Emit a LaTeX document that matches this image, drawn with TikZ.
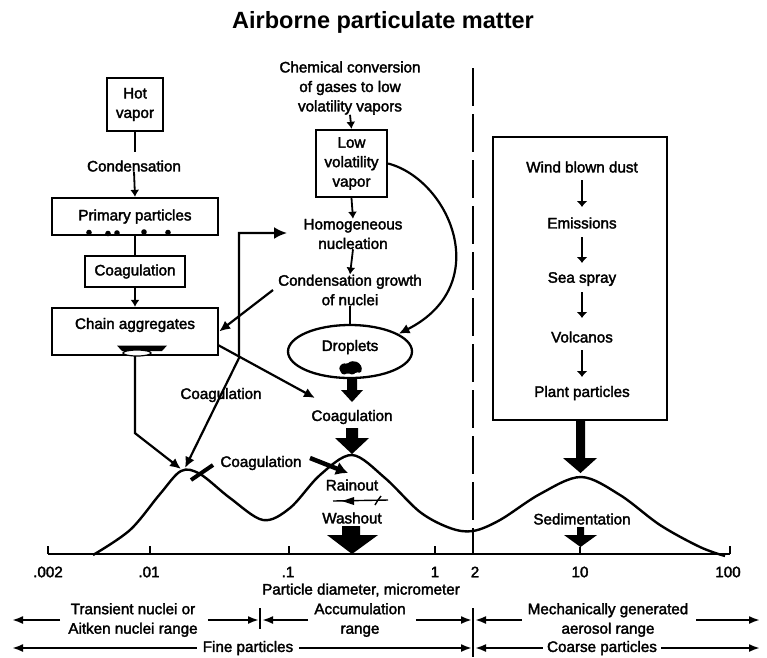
\documentclass[tikz,border=0pt]{standalone}
\usepackage{fontspec}
\setmainfont{Liberation Sans}
\newfontfamily\lblfam{Liberation Sans}[BoldFont={Liberation Sans}, BoldFeatures={FakeBold=2.2}]
\newcommand\lblsz{\lblfam\bfseries\fontsize{15.2}{19.5}\selectfont}
\newcommand\ttlsz{\fontsize{23.5}{28}\selectfont\bfseries}
\usetikzlibrary{arrows.meta,shapes.geometric}
\begin{document}
\begin{tikzpicture}[x=1pt,y=-1pt,
  lbl/.style={font=\lblsz, align=center, inner sep=0pt},
  boxn/.style={draw, line width=2.3pt, rectangle, inner sep=0pt, font=\lblsz, align=center},
  conn/.style={line width=2.2pt},
  arr/.style={conn, -{Latex[length=11pt,width=10pt]}},
  sarr/.style={line width=1.8pt, -{Latex[length=7pt,width=9pt]}},
  barr/.style={line width=1.6pt, -{Latex[length=6pt,width=11pt]}},
  rng/.style={line width=2pt, -{Latex[length=11pt,width=8pt]}},
  tick/.style={line width=2pt}]
\useasboundingbox (0,0) rectangle (767,657);

% title
\node[font=\ttlsz, inner sep=0pt] (title) at (383,22) {Airborne particulate matter};

% ---------------- left column
\node[boxn, minimum width=56pt, minimum height=53pt] (hot) at (135,104.5) {Hot\\vapor};
\node[lbl] (cond) at (134,166) {Condensation};
\node[boxn, minimum width=166pt, minimum height=37pt] (prim) at (135,216.5) {Primary particles};
\node[boxn, minimum width=100pt, minimum height=31pt] (coag1) at (135,271.5) {Coagulation};
\node[boxn, minimum width=166pt, minimum height=47pt] (chain) at (135,331.5) {};
\node[lbl] (chaintxt) at (135,325) {Chain aggregates};

\coordinate (c1) at (135,152);
\draw[conn] (hot.south) -- (c1);
\draw[sarr] (cond.south) -- (prim.north);
\draw[conn] (prim.south) -- (coag1.north);
\draw[sarr] (coag1.south) -- (chain.north);

% particles on primary box
\foreach \px/\py in {89/232.5,108/233.5,117/233,144/232,168/232.5}
  \fill (\px,\py) circle (2.8pt);

% mark under chain aggregates
\fill (117,345.5) -- (167,345.5) -- (162,351) -- (122,351) -- cycle;
\draw[line width=1.2pt, fill=white] (137,353) ellipse (14pt and 3pt);

% ---------------- middle column
\node[lbl] (chem) at (350,88) {Chemical conversion\\of gases to low\\volatility vapors};
\node[boxn, minimum width=71pt, minimum height=67pt] (lvv) at (351.5,163.5) {Low\\volatility\\vapor};
\node[lbl] (homo) at (353,234) {Homogeneous\\nucleation};
\node[lbl] (cgrow) at (350,290) {Condensation growth\\of nuclei};
\node[draw, ellipse, line width=2.3pt, minimum width=124pt, minimum height=53pt, inner sep=0pt] (drop) at (350,351.5) {};
\node[lbl] (droptxt) at (350,347) {Droplets};
\node[lbl] (coagB) at (352,417) {Coagulation};
\node[lbl] (coagA) at (221,395) {Coagulation};
\node[lbl] (coagC) at (261,463) {Coagulation};
\node[lbl] (rain) at (352,485) {Rainout};
\node[lbl] (wash) at (352,518) {Washout};

\draw[sarr] (chem.south) -- (lvv.north);
\draw[sarr] (lvv.south) -- (homo.north);
\draw[sarr] (homo.south) -- (cgrow.north);
\draw[conn] (cgrow.south) -- (drop.north);

% droplet blob
\fill[rounded corners=1.5pt] (339,367) -- (343,363) -- (347,364) -- (351,361) -- (358,362) -- (362,367) -- (361,373) -- (356,372) -- (353,375) -- (348,373) -- (343,375) -- (340,371) -- cycle;

% curve from low volatility vapor to droplets
\draw[arr] (lvv.east) .. controls (450,180) and (495,285) .. (drop.20);

% thick arrows middle
\fill (347,378) -- (357,378) -- (357,390) -- (363,390) -- (352,402) -- (341,390) -- (347,390) -- cycle;
\fill (346,428) -- (358,428) -- (358,438) -- (369,438) -- (352,454) -- (335,438) -- (346,438) -- cycle;
\fill (342,526) -- (360,526) -- (360,535) -- (378,535) -- (352,554) -- (327,535) -- (342,535) -- cycle;

% rainout / washout symbol
\draw[line width=1.4pt] (333,501) -- (388,500);
\fill (342,501) -- (354,497) -- (354,505) -- cycle;
\draw[line width=1.4pt] (375,505) -- (378,500) -- (381,496);

% ---------------- left connectors
\coordinate (pk1a) at (181,469);
\coordinate (pk1b) at (185,468);
\coordinate (bend1) at (239,358);
\coordinate (bend2) at (239,233);
\coordinate (hn) at (287,233);
\draw[arr] (chain.south) -- ++(0,77) -- (pk1a);
\draw[conn, {Latex[length=11pt,width=10pt]}-{Latex[length=13pt,width=12pt]}] (pk1b) -- (bend1) -- (bend2) -- (hn);
\coordinate (cg0) at (273,290);
\draw[arr] (cg0) -- (chain.east);
\coordinate (ch1) at (218,345);
\coordinate (d1) at (315,398);
\draw[arr] (ch1) -- (d1);
\coordinate (cc0) at (310,458);
\coordinate (cc1) at (348,473);
\draw[line width=4.5pt, -{Latex[length=12pt,width=14pt]}] (cc0) -- (cc1);
\draw[line width=4pt] (191,480) -- (213,465);

% ---------------- right side
\draw[line width=2.4pt, dash pattern=on 38pt off 8pt] (473,68) -- (473,554);
\node[draw, line width=2.5pt, minimum width=174pt, minimum height=283pt, inner sep=0pt] (rbox) at (580,278.5) {};
\node[lbl] (r1) at (582,167) {Wind blown dust};
\node[lbl] (r2) at (582,223) {Emissions};
\node[lbl] (r3) at (582,279) {Sea spray};
\node[lbl] (r4) at (582,337) {Volcanos};
\node[lbl] (r5) at (582,393) {Plant particles};
\draw[barr] (582,180) -- (582,207);
\draw[barr] (582,237) -- (582,263);
\draw[barr] (582,292) -- (582,318);
\draw[barr] (582,350) -- (582,377);
\node[lbl] (sed) at (582,519) {Sedimentation};
\fill (576,420) -- (585,420) -- (585,458) -- (597,458) -- (580.5,473) -- (563,458) -- (576,458) -- cycle;
\fill (577,527) -- (584,527) -- (584,535) -- (597,535) -- (580.5,547) -- (564,535) -- (577,535) -- cycle;

% ---------------- size distribution curve
\draw[line width=2.4pt] plot[smooth, tension=0.55] coordinates {(93,555) (130,530) (160,494) (181,471) (200,474) (230,498) (263,520) (290,508) (320,475) (352,455) (385,478) (420,512) (450,528) (473,531) (500,520) (540,494) (581,477) (620,495) (660,525) (700,547) (725,556)};

% ---------------- axis
\coordinate (ax0) at (48,554);
\coordinate (ax1) at (730,554);
\draw[line width=2.2pt] (ax0) -- (ax1);
\foreach \tx in {48,150,289,435,730}
  \draw[tick] (\tx,554) -- (\tx,546);
\draw[tick] (580,547) -- (580,554);
\node[lbl] (t1) at (48,572) {.002};
\node[lbl] (t2) at (149,572) {.01};
\node[lbl] (t3) at (288,572) {.1};
\node[lbl] (t4) at (435,572) {1};
\node[lbl] (t5) at (475,572) {2};
\node[lbl] (t6) at (580,572) {10};
\node[lbl] (t7) at (728,572) {100};
\node[lbl] (axt) at (361,590) {Particle diameter, micrometer};

% ---------------- range arrows
\node[lbl] (trans) at (133,620) {Transient nuclei or\\Aitken nuclei range};
\node[lbl] (accum) at (360,620) {Accumulation\\range};
\node[lbl] (mech) at (608,620) {Mechanically generated\\aerosol range};
\node[lbl] (fine) at (248,648) {Fine particles};
\node[lbl] (coarse) at (602,648) {Coarse particles};
\coordinate (L1) at (12,620);
\coordinate (S1a) at (259,620);
\coordinate (S1b) at (262,620);
\coordinate (S2a) at (472,620);
\coordinate (S2b) at (475,620);
\coordinate (R1) at (760,620);
\coordinate (L2) at (12,648);
\coordinate (S2c) at (472,648);
\coordinate (S2d) at (475,648);
\coordinate (R2) at (760,648);
\draw[line width=1.5pt] (260,608) -- (260,629);
\draw[line width=1.5pt] (473,608) -- (473,657);
\draw[rng] ([xshift=-8pt]trans.west) -- (L1);
\draw[rng] ([xshift=10pt]trans.east) -- (S1a);
\draw[rng] ([xshift=-6pt]accum.west) -- (S1b);
\draw[rng] ([xshift=10pt]accum.east) -- (S2a);
\draw[rng] ([xshift=-6pt]mech.west) -- (S2b);
\draw[rng] ([xshift=8pt]mech.east) -- (R1);
\draw[rng] ([xshift=-6pt]fine.west) -- (L2);
\draw[rng] ([xshift=6pt]fine.east) -- (S2c);
\draw[rng] ([xshift=-4pt]coarse.west) -- (S2d);
\draw[rng] ([xshift=4pt]coarse.east) -- (R2);
\end{tikzpicture}
\end{document}
